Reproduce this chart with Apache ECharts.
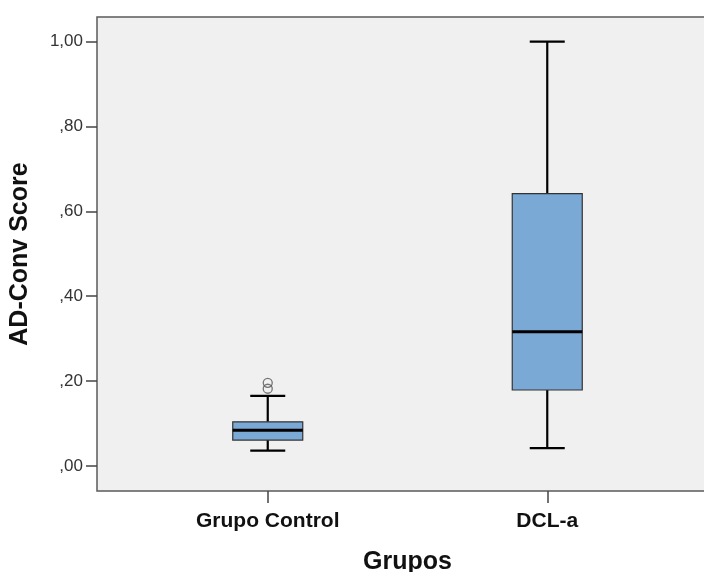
<!DOCTYPE html>
<html>
<head>
<meta charset="utf-8">
<script src="https://cdn.jsdelivr.net/npm/echarts@6/dist/echarts.min.js"></script>
<style>
html,body{margin:0;padding:0;background:#ffffff;}
#chart{width:704px;height:572px;}
</style>
</head>
<body>
<div id="chart"></div>
<script>
// ---- data ----
var categories = ['Grupo Control', 'DCL-a'];
var whiskerLow = [0.036, 0.042];
var q1Values = [0.061, 0.179];
var medianValues = [0.084, 0.316];
var q3Values = [0.104, 0.642];
var whiskerHigh = [0.165, 1.00];
var outlierCategory = [0, 0];
var outlierValues = [0.196, 0.182];
var yTickValues = [0, 0.2, 0.4, 0.6, 0.8, 1.0];

function fmtTick(v) {
  var s = v.toFixed(2).replace('.', ',');
  if (s.charAt(0) === '0') s = s.substring(1);
  return s;
}

var boxData = categories.map(function (c, i) {
  return [i, whiskerLow[i], q1Values[i], medianValues[i], q3Values[i], whiskerHigh[i]];
});
var outlierData = outlierValues.map(function (v, i) {
  return [outlierCategory[i], v];
});

var yMin = -0.059, yMax = 1.058;
var FONT = '"Liberation Sans", Arial, sans-serif';

var chart = echarts.init(document.getElementById('chart'), null, {renderer: 'canvas'});
chart.setOption({
  backgroundColor: '#ffffff',
  animation: false,
  grid: [
    {left: 97, top: 17, right: -3, bottom: 81, show: true, backgroundColor: '#f0f0f0',
     borderColor: '#5a5a5a', borderWidth: 1.5, containLabel: false, outerBoundsMode: 'none'},
    {left: 128, top: 17, right: 17, bottom: 81, show: false, containLabel: false, outerBoundsMode: 'none'}
  ],
  xAxis: [
    {type: 'value', gridIndex: 0, show: false, min: 0, max: 1},
    {type: 'category', gridIndex: 1, data: categories, boundaryGap: true, position: 'bottom',
     axisLine: {show: false, onZero: false},
     axisTick: {show: true, alignWithLabel: true, length: 12, inside: false,
                lineStyle: {color: '#444', width: 1.5}},
     axisLabel: {margin: 20, color: '#111', fontFamily: FONT, fontWeight: 'bold', fontSize: 21},
     name: 'Grupos', nameLocation: 'middle', nameGap: 59,
     nameTextStyle: {color: '#111', fontFamily: FONT, fontWeight: 'bold', fontSize: 25}}
  ],
  yAxis: [
    {type: 'value', gridIndex: 0, min: yMin, max: yMax, position: 'left',
     axisLine: {show: false, onZero: false},
     splitLine: {show: false},
     axisTick: {show: true, length: 11, customValues: yTickValues,
                lineStyle: {color: '#444', width: 1.5}},
     axisLabel: {show: true, margin: 14, customValues: yTickValues, color: '#333',
                 fontFamily: FONT, fontSize: 17, formatter: fmtTick},
     name: 'AD-Conv Score', nameLocation: 'middle', nameGap: 64,
     nameTextStyle: {color: '#111', fontFamily: FONT, fontWeight: 'bold', fontSize: 25}},
    {type: 'value', gridIndex: 1, min: yMin, max: yMax, show: false,
     axisLine: {onZero: false}, splitLine: {show: false}}
  ],
  series: [
    {
      type: 'custom',
      xAxisIndex: 1, yAxisIndex: 1,
      data: boxData,
      renderItem: function (params, api) {
        var x = api.value(0);
        var pLow = api.coord([x, api.value(1)]);
        var pQ1 = api.coord([x, api.value(2)]);
        var pMed = api.coord([x, api.value(3)]);
        var pQ3 = api.coord([x, api.value(4)]);
        var pHigh = api.coord([x, api.value(5)]);
        var cx = pLow[0];
        var halfBox = 35, halfCap = 17.5;
        var whisk = {stroke: '#000', lineWidth: 2.2};
        return {
          type: 'group',
          children: [
            {type: 'line', shape: {x1: cx, y1: pLow[1], x2: cx, y2: pQ1[1]}, style: whisk},
            {type: 'line', shape: {x1: cx, y1: pQ3[1], x2: cx, y2: pHigh[1]}, style: whisk},
            {type: 'line', shape: {x1: cx - halfCap, y1: pLow[1], x2: cx + halfCap, y2: pLow[1]}, style: whisk},
            {type: 'line', shape: {x1: cx - halfCap, y1: pHigh[1], x2: cx + halfCap, y2: pHigh[1]}, style: whisk},
            {type: 'rect', shape: {x: cx - halfBox, y: pQ3[1], width: 2 * halfBox, height: pQ1[1] - pQ3[1]},
             style: {fill: '#7aa9d6', stroke: '#333', lineWidth: 1.2}},
            {type: 'line', shape: {x1: cx - halfBox, y1: pMed[1], x2: cx + halfBox, y2: pMed[1]},
             style: {stroke: '#000', lineWidth: 3}}
          ]
        };
      }
    },
    {
      type: 'scatter',
      xAxisIndex: 1, yAxisIndex: 1,
      data: outlierData,
      symbol: 'circle',
      symbolSize: 9,
      itemStyle: {color: 'rgba(0,0,0,0)', borderColor: '#555', borderWidth: 1.3}
    }
  ]
});
</script>
</body>
</html>
